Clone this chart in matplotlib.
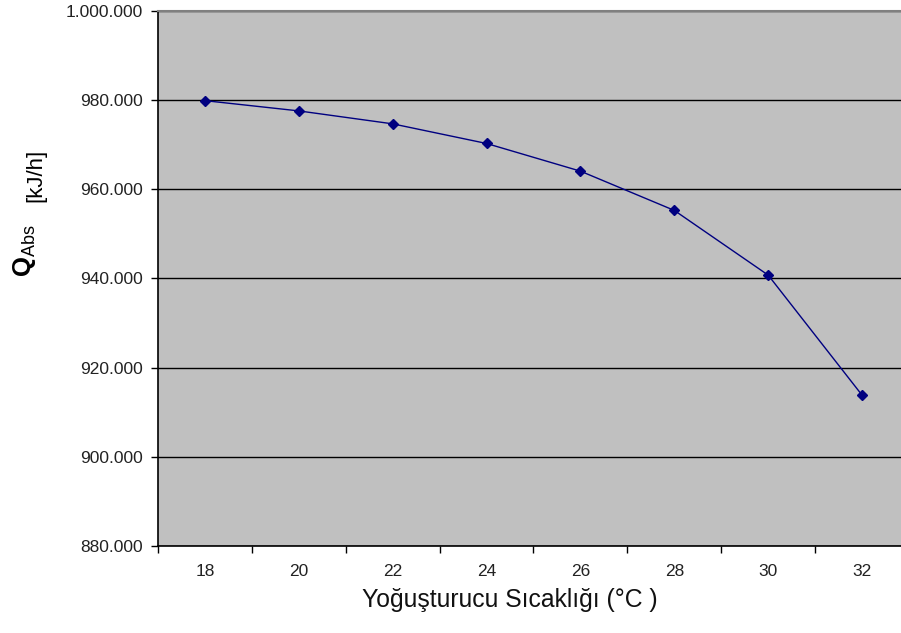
import numpy as np
import matplotlib
matplotlib.use("Agg")
import matplotlib.pyplot as plt
from matplotlib.ticker import FuncFormatter

# ============================================================
# DATA
# ============================================================

temps = [18, 20, 22, 24, 26, 28, 30, 32]
q_abs = [979800, 977500, 974600, 970200, 964000, 955200, 940700, 913800]

y_ticks = [880000, 900000, 920000, 940000, 960000, 980000, 1000000]

x_label = "Yoğuşturucu Sıcaklığı (°C )"
y_unit = "[kJ/h]"

# ============================================================
# FIGURE
# ============================================================

plt.rcParams["font.family"] = ["Liberation Sans", "DejaVu Sans"]
plt.rcParams["mathtext.fontset"] = "custom"
plt.rcParams["mathtext.rm"] = "Liberation Sans"
plt.rcParams["mathtext.bf"] = "Liberation Sans:bold"

W, H = 901, 633
fig = plt.figure(figsize=(W / 100, H / 100), dpi=100)
fig.patch.set_facecolor("white")

left, right, top, bottom = 158, 909, 10.5, 546
ax = fig.add_axes([left / W, (H - bottom) / H, (right - left) / W, (bottom - top) / H])
ax.set_facecolor("#c0c0c0")

ax.plot(temps, q_abs, color="#000080", linewidth=1.0, marker="D",
        markersize=5.2, markerfacecolor="#000080", markeredgecolor="#000080",
        zorder=3)

ax.set_ylim(y_ticks[0], y_ticks[-1])
ax.set_yticks(y_ticks)
ax.yaxis.set_major_formatter(FuncFormatter(lambda v, p: f"{int(v):,}".replace(",", ".")))
ax.grid(axis="y", color="black", linewidth=1.0)
ax.set_axisbelow(True)

# category axis: labels at categories, ticks between them
ax.set_xlim(temps[0] - 1, temps[-1] + 1)
ax.set_xticks(temps)
ax.set_xticks([t - 1 for t in temps] + [temps[-1] + 1], minor=True)
ax.tick_params(axis="x", which="major", length=0, pad=13, labelsize=12.5, colors="#222222")
ax.tick_params(axis="x", which="minor", length=5, width=1, color="black", direction="out")
ax.tick_params(axis="y", length=5, width=1, color="black", pad=6, labelsize=12.5, labelcolor="#222222")

for s in ["left", "bottom"]:
    ax.spines[s].set_color("black")
    ax.spines[s].set_linewidth(1.2)
ax.spines["top"].set_color("#808080")
ax.spines["top"].set_linewidth(1.5)
ax.spines["right"].set_visible(False)

# axis titles
fig.text(510 / W, (H - 600) / H, x_label, ha="center", va="center", fontsize=17.8, color="#111111")

fig.text(24 / W, (H - 251) / H, r"$\mathbf{Q}_{\mathrm{Abs}}$", rotation=90,
         ha="center", va="center", fontsize=18.5, color="black")
fig.text(36 / W, (H - 175) / H, y_unit, rotation=90, ha="center", va="center",
         fontsize=16, color="black")

fig.savefig("out.png", dpi=100, facecolor="white")
